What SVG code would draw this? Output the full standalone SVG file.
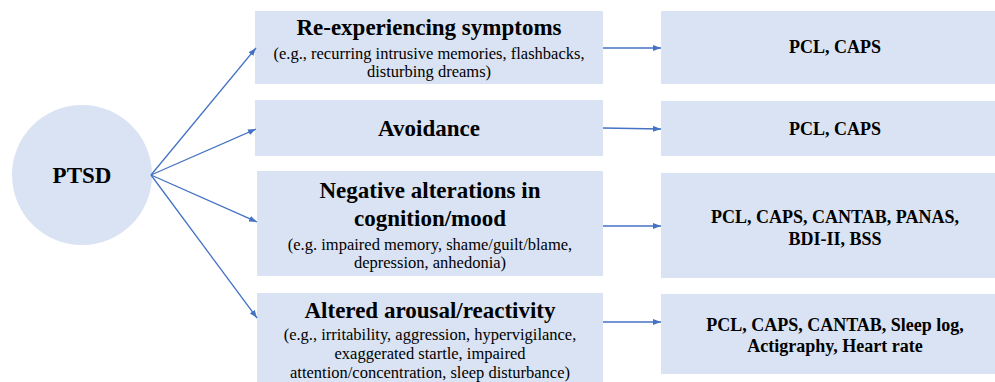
<svg xmlns="http://www.w3.org/2000/svg" width="995" height="382" viewBox="0 0 995 382">
<defs>
<marker id="ah" markerWidth="8" markerHeight="6" refX="8" refY="3" orient="auto" markerUnits="userSpaceOnUse">
<path d="M0,0 L8,3 L0,6 Z" fill="#4472c4"/>
</marker>
<style>
.box{fill:#dae3f3;}
.t{fill:#000;text-anchor:middle;font-family:'Liberation Serif','Times New Roman',Times,'DejaVu Serif',serif;}
.b{font-weight:bold;}
.h{font-size:23px;}
.s{font-size:16.5px;}
.m{font-size:18px;}
.c{stroke:#4472c4;stroke-width:1.3;fill:none;marker-end:url(#ah);}
</style>
</defs>
<rect width="995" height="382" fill="#fff"/>
<g id="ptsd">
<circle cx="82" cy="175" r="70" class="box"/>
<text x="82" y="183" class="t b h">PTSD</text>
</g>
<g id="reexp">
<rect x="255" y="11" width="348" height="73" class="box"/>
<text x="429" y="35" class="t b h">Re-experiencing symptoms</text>
<text x="429" y="59" class="t s">(e.g., recurring intrusive memories, flashbacks,</text>
<text x="429" y="77" class="t s">disturbing dreams)</text>
</g>
<g id="avoid">
<rect x="255" y="100" width="348" height="56" class="box"/>
<text x="429" y="136" class="t b h">Avoidance</text>
</g>
<g id="neg">
<rect x="257" y="171" width="346" height="105" class="box"/>
<text x="430" y="198" class="t b h">Negative alterations in</text>
<text x="430" y="226" class="t b h">cognition/mood</text>
<text x="430" y="250" class="t s">(e.g. impaired memory, shame/guilt/blame,</text>
<text x="430" y="268" class="t s">depression, anhedonia)</text>
</g>
<g id="arousal">
<rect x="257" y="293" width="346" height="100" class="box"/>
<text x="430" y="318" class="t b h">Altered arousal/reactivity</text>
<text x="430" y="340" class="t s">(e.g., irritability, aggression, hypervigilance,</text>
<text x="430" y="359" class="t s">exaggerated startle, impaired</text>
<text x="430" y="378" class="t s">attention/concentration, sleep disturbance)</text>
</g>
<g id="m1">
<rect x="661" y="11" width="350" height="73" class="box"/>
<text x="835" y="53" class="t b m">PCL, CAPS</text>
</g>
<g id="m2">
<rect x="661" y="101" width="350" height="55" class="box"/>
<text x="835" y="135" class="t b m">PCL, CAPS</text>
</g>
<g id="m3">
<rect x="661" y="173" width="350" height="105" class="box"/>
<text x="835" y="223" class="t b m">PCL, CAPS, CANTAB, PANAS,</text>
<text x="835" y="245" class="t b m">BDI-II, BSS</text>
</g>
<g id="m4">
<rect x="661" y="294" width="350" height="80" class="box"/>
<text x="835" y="331" class="t b m">PCL, CAPS, CANTAB, Sleep log,</text>
<text x="835" y="352" class="t b m">Actigraphy, Heart rate</text>
</g>
<g id="connectors">
<line x1="151" y1="175" x2="256" y2="48" class="c"/>
<line x1="151" y1="175" x2="256" y2="129" class="c"/>
<line x1="151" y1="175" x2="257" y2="222" class="c"/>
<line x1="151" y1="175" x2="257" y2="318" class="c"/>
<line x1="603" y1="48" x2="661" y2="48" class="c"/>
<line x1="603" y1="128" x2="661" y2="129" class="c"/>
<line x1="603" y1="226" x2="661" y2="226" class="c"/>
<line x1="603" y1="322" x2="661" y2="322" class="c"/>
</g>
</svg>
